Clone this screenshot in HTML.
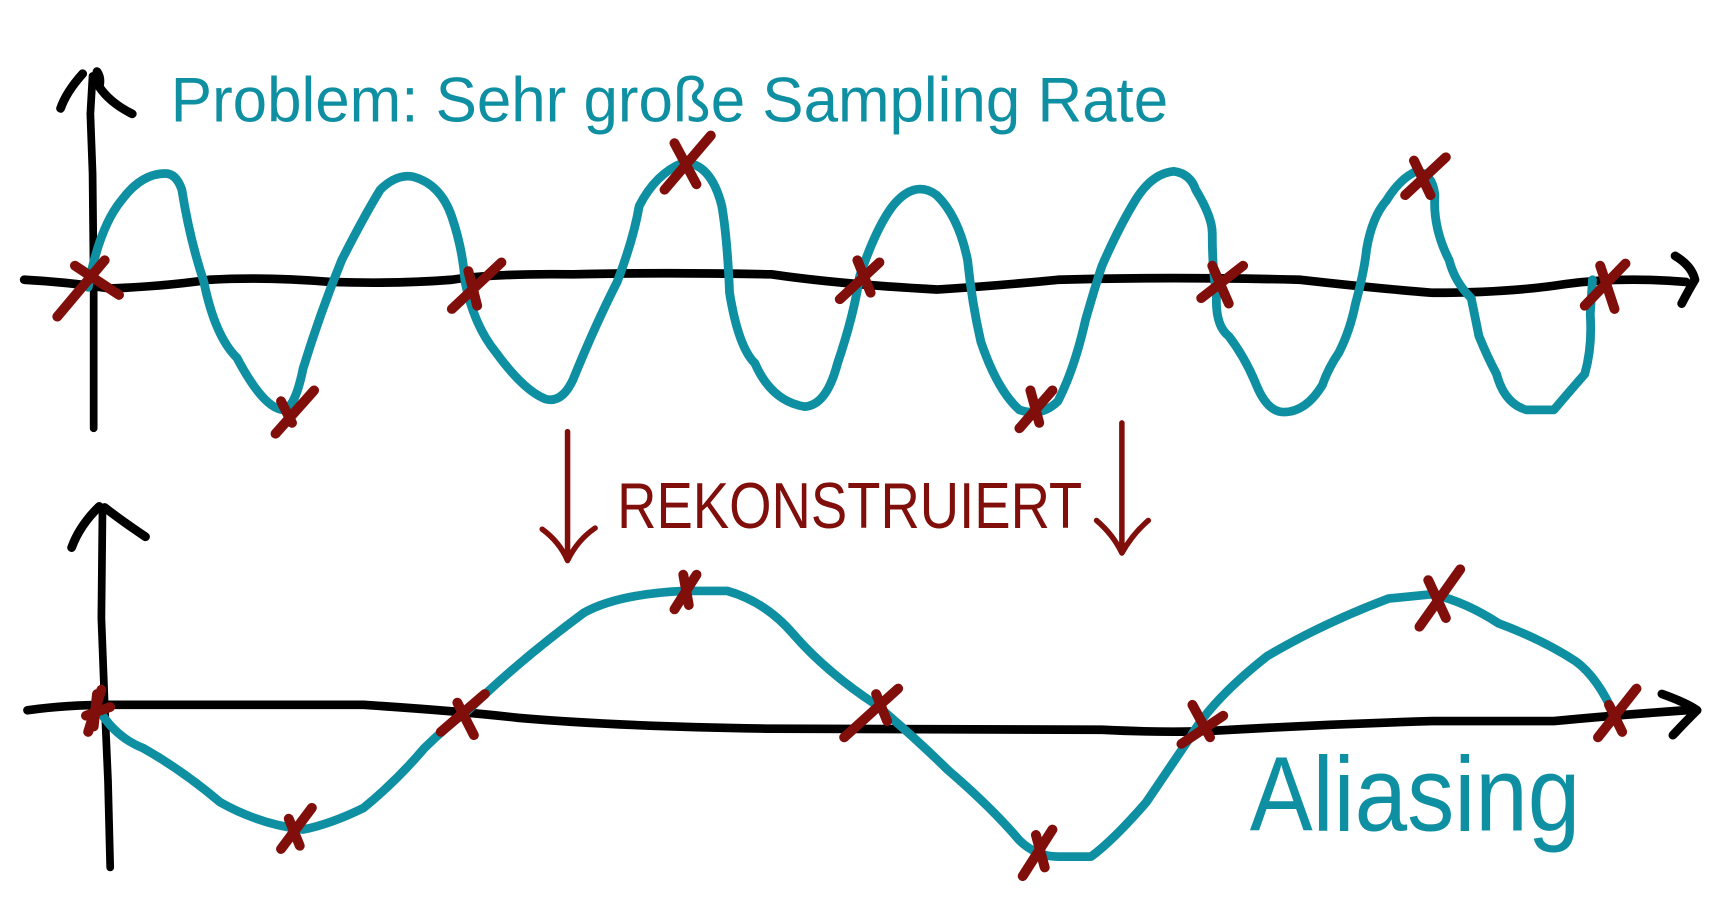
<!DOCTYPE html>
<html><head><meta charset="utf-8"><style>
html,body{margin:0;padding:0;background:#fff;width:1728px;height:900px;overflow:hidden}
svg{display:block}
</style></head><body>
<svg width="1728" height="900" viewBox="0 0 1568 830" preserveAspectRatio="none" xmlns="http://www.w3.org/2000/svg">
<g fill="none" stroke-linecap="round" stroke-linejoin="round">
<path d="M85 395 L85 260 L84 160 L82 105 L84 70" stroke="#000" stroke-width="7"/>
<path d="M55 100 Q60 85 75 68 M88 66 Q92 72 90 80 Q100 95 120 105" stroke="#000" stroke-width="8"/>
<path d="M22 258 Q60 260 100 266 Q150 264 190 258 Q240 255 300 260 Q360 262 410 258 Q450 252 520 253 Q600 251 700 253 Q760 262 850 267 Q900 264 960 258 Q1060 255 1180 258 Q1250 266 1300 270 Q1370 270 1420 262 Q1470 255 1530 260" stroke="#000" stroke-width="8"/>
<path d="M1520 236 Q1535 245 1538 258 Q1532 268 1526 280" stroke="#000" stroke-width="8"/>
<path d="M80 265 Q90 210 110 185 Q128 160 150 160 Q160 160 165 175 Q172 220 185 260 Q195 310 215 330 Q240 378 258 378 Q268 375 275 340 Q290 290 310 240 Q330 200 345 175 Q360 160 375 163 Q400 170 410 200 Q420 230 422 260 Q430 300 450 325 Q475 360 495 368 Q510 372 520 350 Q540 300 560 260 Q575 220 580 190 Q595 160 620 150 Q645 150 655 190 Q660 220 662 270 Q670 320 685 335 Q700 370 730 375 Q750 374 760 335 Q775 290 780 255 Q795 210 810 190 Q830 165 850 180 Q870 200 878 240 Q882 280 890 315 Q905 360 925 378 Q945 385 960 370 Q975 340 985 295 Q995 260 1000 245 Q1015 210 1030 185 Q1045 160 1065 158 Q1080 160 1085 175 Q1100 200 1100 215 Q1100 250 1104 270 Q1102 300 1115 310 Q1130 330 1140 355 Q1150 380 1165 380 Q1185 380 1200 355 Q1205 340 1215 325 Q1225 305 1230 280 Q1238 250 1240 230 Q1245 200 1258 185 Q1270 165 1285 158 Q1300 160 1302 180 Q1300 210 1315 240 Q1320 260 1335 275 Q1340 300 1342 310 Q1350 330 1358 345 Q1365 372 1385 378 L1410 378 Q1425 360 1438 345 Q1445 320 1443 290 L1445 258" stroke="#0f8fa2" stroke-width="8"/>
<g stroke="#800e0a" stroke-width="9">
<path d="M52 292 L95 240 M68 245 L108 272"/>
<path d="M250 400 L285 360 M255 370 L265 390"/>
<path d="M603 175 L645 125 M612 132 L632 170"/>
<path d="M410 285 L455 242 M425 250 L433 282"/>
<path d="M762 276 L798 242 M778 240 L790 270"/>
<path d="M925 395 L955 360 M935 360 L943 390"/>
<path d="M1090 275 L1128 245 M1100 245 L1115 280"/>
<path d="M1275 180 L1312 145 M1283 148 L1298 180"/>
<path d="M1438 282 L1475 243 M1452 245 L1465 285"/>
</g>
<g stroke="#800e0a" stroke-width="5">
<path d="M515 398 L515 515 M492 488 Q508 500 515 517 Q524 498 540 487"/>
<path d="M1018 390 L1018 510 M995 480 Q1010 493 1018 510 Q1028 492 1042 480"/>
</g>
<path d="M100 800 L98 720 L95 650 L92 570 L93 470" stroke="#000" stroke-width="7"/>
<path d="M65 505 Q72 485 90 467 M95 468 Q110 480 132 495" stroke="#000" stroke-width="8"/>
<path d="M25 655 Q60 650 100 650 L330 650 Q420 656 470 662 Q560 670 700 672 L1000 673 Q1060 676 1100 674 Q1200 668 1300 665 L1410 665 Q1460 660 1530 655" stroke="#000" stroke-width="8"/>
<path d="M1508 640 Q1530 648 1540 655 Q1530 665 1518 678" stroke="#000" stroke-width="8"/>
<path d="M90 655 Q105 680 130 690 Q165 710 200 740 Q235 760 275 765 Q300 760 330 745 Q360 720 385 690 Q405 670 425 655 Q470 610 530 565 Q560 548 620 545 L660 545 Q695 555 720 585 Q750 620 795 650 Q830 680 860 710 Q900 745 925 775 Q940 790 960 790 L990 790 Q1010 775 1040 740 Q1060 710 1080 680 Q1100 645 1150 605 Q1200 575 1260 552 L1300 548 Q1330 555 1360 575 Q1400 590 1430 610 Q1450 625 1465 660" stroke="#0f8fa2" stroke-width="8"/>
<g stroke="#800e0a" stroke-width="9">
<path d="M88 640 L85 670 M92 636 L80 675 M78 660 L100 652"/>
<path d="M255 783 L283 745 M262 755 L272 780"/>
<path d="M400 675 L440 640 M415 648 L430 678"/>
<path d="M612 562 L632 530 M620 530 L625 558"/>
<path d="M766 680 L815 635 M795 640 L805 665"/>
<path d="M928 808 L955 765 M940 770 L948 800"/>
<path d="M1072 686 L1110 660 M1082 650 L1098 680"/>
<path d="M1288 578 L1325 525 M1296 535 L1312 570"/>
<path d="M1450 680 L1485 635 M1460 650 L1472 675"/>
</g>
</g>
<g font-family="Liberation Sans, sans-serif">
<text x="155" y="112" font-size="58" fill="#0f8fa2" textLength="905" lengthAdjust="spacingAndGlyphs">Problem: Sehr große Sampling Rate</text>
<text x="560" y="487" font-size="60" fill="#800e0a" textLength="422" lengthAdjust="spacingAndGlyphs">REKONSTRUIERT</text>
<text x="1134" y="766" font-size="98" fill="#0f8fa2" textLength="300" lengthAdjust="spacingAndGlyphs">Aliasing</text>
</g>
</svg>
</body></html>
